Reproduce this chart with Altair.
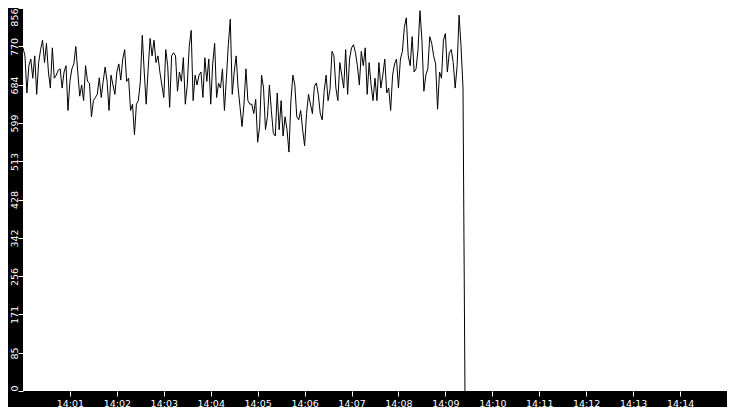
import altair as alt
import pandas as pd

# one reading every 2.5 s from 14:00:00
values = [
    767, 749, 666, 727, 742, 699, 749, 663, 734, 763, 784, 734, 777, 713, 677, 767,
    699, 706, 717, 720, 677, 713, 727, 627, 692, 720, 731, 770, 713, 659, 684, 649,
    727, 692, 688, 613, 649, 656, 663,
    700, 656, 692, 724, 692, 627, 706, 684, 663, 713, 731, 695, 742, 763, 692, 699,
    627, 641, 573, 641, 649, 692, 795, 713, 641, 720, 788, 749, 784, 734, 749, 713,
    684, 656, 763, 727, 634, 749,
    756, 749, 670, 713, 692, 745, 641, 684, 770, 806, 649, 706, 684, 706, 713, 656,
    745, 692, 742, 641, 731, 777, 656, 688, 677, 720, 627, 699, 774, 831, 663, 713,
    749, 677, 634, 591, 641, 720,
    649, 641, 641, 620, 652, 556, 591, 706, 677, 584, 613, 684, 627, 577, 570, 666,
    584, 649, 570, 613, 584, 534, 649, 706, 684, 613, 606, 627, 584, 548, 620, 663,
    641, 620, 681, 688, 663, 620,
    606, 670, 706, 649, 674, 759, 749, 677, 649, 734, 706, 677, 763, 663, 742, 767,
    774, 756, 727, 684, 759, 727, 767, 663, 734, 684, 649, 699, 649, 734, 677, 706,
    742, 666, 677, 627, 706, 731,
    742, 677, 742, 759, 813, 834, 749, 727, 792, 713, 720, 763, 850, 784, 670, 706,
    720, 792, 777, 749, 731, 630, 713, 699, 784, 799, 713, 756, 763, 734, 677, 727,
    840, 770, 677,
    0,
]

y_ticks = [0, 85, 171, 256, 342, 428, 513, 599, 684, 770, 856]
tick_minutes = [1, 2, 3, 4, 5, 6, 7, 8, 9, 10, 11, 12, 13, 14]

source = pd.DataFrame({
    "time": pd.date_range("2024-01-01 14:00:00", periods=len(values), freq="2500ms"),
    "value": values,
})


def at(minute):
    return alt.DateTime(year=2024, month=1, date=1, hours=14, minutes=minute)


chart = alt.Chart(source).mark_line(color="black", strokeWidth=1, clip=True).encode(
    x=alt.X("time:T",
            scale=alt.Scale(domain=[at(0), at(15)]),
            axis=alt.Axis(title=None, values=[at(m) for m in tick_minutes], format="%H:%M",
                          grid=False, domain=False, tickColor="white", tickSize=5,
                          labelColor="white", labelFont="DejaVu Sans", labelFontSize=9.5,
                          labelPadding=2, labelFlush=False)),
    y=alt.Y("value:Q",
            scale=alt.Scale(domain=[0, 856], nice=False),
            axis=alt.Axis(title=None, values=y_ticks, grid=False, domain=False,
                          tickColor="white", tickSize=5, labelColor="white",
                          labelFont="DejaVu Sans", labelFontSize=9.5, labelAngle=270,
                          labelBaseline="alphabetic", labelPadding=1, labelFlush=False,
                          labelAlign={"condition": [{"test": "datum.value >= 856", "value": "right"},
                                                    {"test": "datum.value <= 0", "value": "left"}],
                                      "value": "center"})),
).properties(
    width=704,
    height=383,
    background="black",
    padding={"left": 15, "top": 0, "right": 0, "bottom": 16},
    autosize="none",
).configure_view(
    fill="white",
    stroke="white",
    strokeWidth=0
)

chart.save("out.html", embed_options={"renderer": "svg", "actions": False})
